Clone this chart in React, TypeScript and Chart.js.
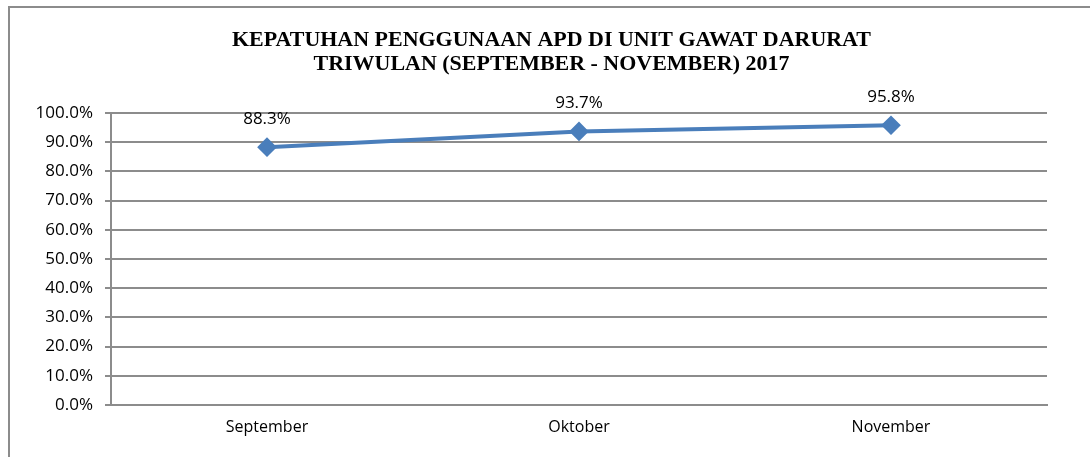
import React, { useEffect, useRef } from "react";
import { Chart, registerables } from "chart.js";

Chart.register(...registerables);

const categories: string[] = ["September", "Oktober", "November"];
const compliance: number[] = [88.3, 93.7, 95.8];
const titleLines: string[] = [
  "KEPATUHAN PENGGUNAAN APD DI UNIT GAWAT DARURAT",
  "TRIWULAN (SEPTEMBER - NOVEMBER) 2017",
];

const W = 1090;
const H = 457;
const LINE_COLOR = "#4A7EBB";
const GRID_COLOR = "#8C8C8C";
const TEXT_FONT = "'Open Sans', sans-serif";

const framePlugin = {
  id: "frame",
  beforeDraw(chart: any) {
    const ctx = chart.ctx;
    ctx.save();
    ctx.fillStyle = "#ffffff";
    ctx.fillRect(0, 0, chart.width, chart.height);
    ctx.strokeStyle = GRID_COLOR;
    ctx.lineWidth = 2;
    ctx.beginPath();
    ctx.moveTo(9, chart.height + 2);
    ctx.lineTo(9, 7);
    ctx.lineTo(chart.width + 2, 7);
    ctx.stroke();
    ctx.restore();
  },
};

const titlePlugin = {
  id: "customTitle",
  afterDraw(chart: any) {
    const ctx = chart.ctx;
    ctx.save();
    ctx.font = "bold 21px 'Liberation Serif', 'Times New Roman', serif";
    ctx.fillStyle = "#000000";
    ctx.textAlign = "center";
    ctx.textBaseline = "middle";
    const w0 = ctx.measureText(titleLines[0]).width;
    const sx = 639 / w0;
    const cx = 551.5;
    const ys = [41, 65];
    titleLines.forEach((line, i) => {
      ctx.save();
      ctx.translate(cx, ys[i]);
      ctx.scale(sx, 1);
      ctx.fillText(line, 0, 0);
      ctx.restore();
    });
    ctx.restore();
  },
};

const labelPlugin = {
  id: "pointLabels",
  afterDatasetsDraw(chart: any) {
    const ctx = chart.ctx;
    const meta = chart.getDatasetMeta(0);
    ctx.save();
    ctx.font = `17px ${TEXT_FONT}`;
    ctx.fillStyle = "#000000";
    ctx.textAlign = "center";
    ctx.textBaseline = "middle";
    meta.data.forEach((pt: any, i: number) => {
      ctx.fillText(compliance[i].toFixed(1) + "%", pt.x, pt.y - 28);
    });
    ctx.restore();
  },
};

export default function App() {
  const ref = useRef<HTMLCanvasElement | null>(null);

  useEffect(() => {
    if (!ref.current) return;
    const chart = new Chart(ref.current, {
      type: "line",
      data: {
        labels: categories,
        datasets: [
          {
            data: compliance,
            borderColor: LINE_COLOR,
            backgroundColor: LINE_COLOR,
            borderWidth: 4,
            pointStyle: "rectRot",
            pointRadius: 7,
            pointHoverRadius: 7,
            pointBackgroundColor: LINE_COLOR,
            pointBorderColor: LINE_COLOR,
            tension: 0,
          },
        ],
      },
      options: {
        animation: false,
        responsive: false,
        maintainAspectRatio: false,
        layout: { padding: { left: 0, right: 43, top: 113, bottom: 0 } },
        plugins: {
          legend: { display: false },
          title: { display: false },
          tooltip: { enabled: false },
        },
        scales: {
          x: {
            offset: true,
            grid: { display: false, drawTicks: false },
            border: { display: true, color: GRID_COLOR, width: 2 },
            ticks: {
              color: "#000000",
              padding: 13,
              font: { family: TEXT_FONT, size: 16 },
              maxRotation: 0,
            },
            afterFit(scale: any) {
              scale.height = 52;
            },
          },
          y: {
            min: 0,
            max: 100,
            ticks: {
              stepSize: 10,
              color: "#000000",
              padding: 12,
              font: { family: TEXT_FONT, size: 17 },
              callback: (v: any) => Number(v).toFixed(1) + "%",
            },
            grid: {
              color: GRID_COLOR,
              lineWidth: 2,
              drawTicks: true,
              tickLength: 6,
              tickColor: GRID_COLOR,
            },
            border: { display: true, color: GRID_COLOR, width: 2 },
            afterFit(scale: any) {
              scale.width = 111;
            },
          },
        },
      },
      plugins: [framePlugin, titlePlugin, labelPlugin],
    });
    return () => chart.destroy();
  }, []);

  return (
    <div style={{ position: "fixed", left: 0, top: 0, width: W, height: H, background: "#fff" }}>
      <canvas ref={ref} width={W} height={H} style={{ width: W, height: H, display: "block" }} />
    </div>
  );
}
